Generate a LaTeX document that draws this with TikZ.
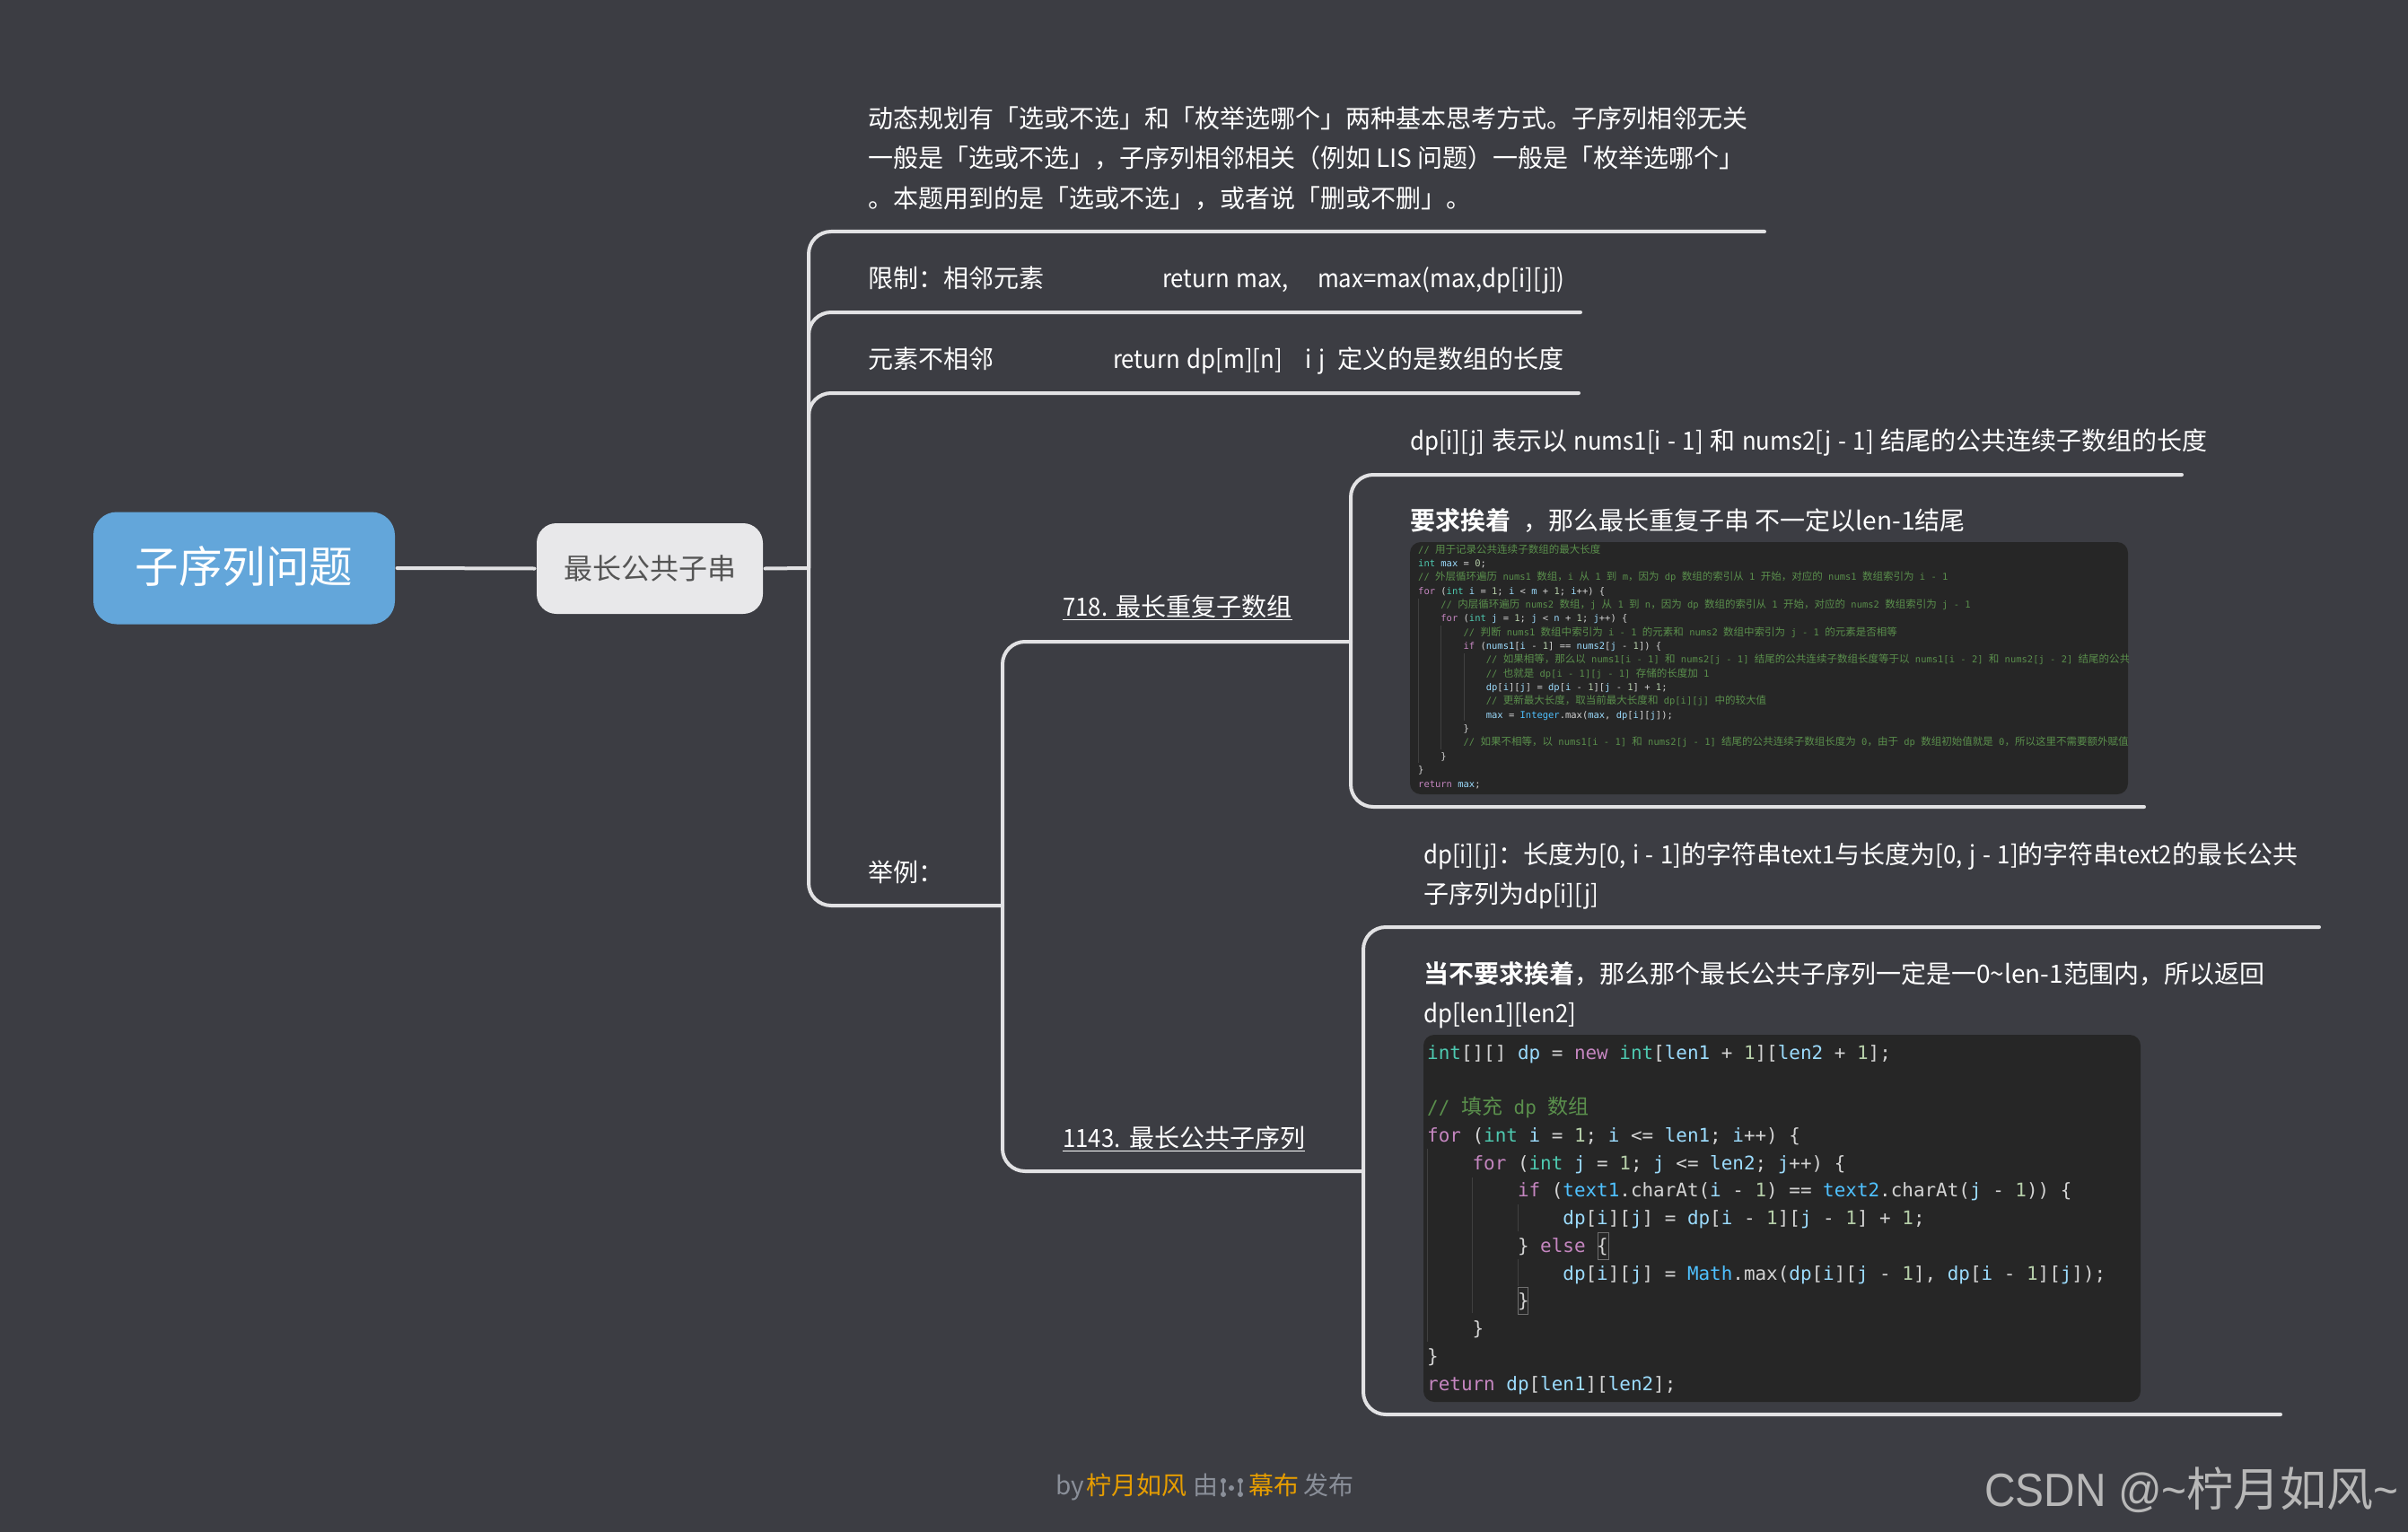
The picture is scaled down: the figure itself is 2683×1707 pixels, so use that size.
\documentclass[tikz,border=0pt]{standalone}
\usepackage{fontspec}
\setmainfont{Noto Sans CJK SC}[BoldFont={Noto Sans CJK SC Bold}]
\newfontfamily\cjcode[Scale=1.1]{Noto Sans CJK SC}
\newfontfamily\latf[FakeStretch=0.92]{Noto Sans CJK SC}
\newfontfamily\monof{DejaVu Sans Mono}
\newfontfamily\wmark[FakeStretch=0.92]{Liberation Sans}
\lineskiplimit=-100pt
\definecolor{bgc}{HTML}{3C3D43}
\definecolor{linec}{HTML}{E2E2E4}
\definecolor{rootc}{HTML}{63A6DA}
\definecolor{subc}{HTML}{E8E8EA}
\definecolor{subt}{HTML}{555555}
\definecolor{codebg}{HTML}{262626}
\definecolor{guide}{HTML}{404040}
\definecolor{hl}{HTML}{707070}
\definecolor{cmc}{HTML}{5A8F4C}
\definecolor{kwc}{HTML}{C586C0}
\definecolor{tyc}{HTML}{4EC9B0}
\definecolor{vac}{HTML}{9CDCFE}
\definecolor{txc}{HTML}{D4D4D4}
\definecolor{nuc}{HTML}{B5CEA8}
\definecolor{clc}{HTML}{4FC1FF}
\definecolor{footg}{HTML}{8A8F99}
\definecolor{footo}{HTML}{E69D00}
\definecolor{wmc}{HTML}{B8B8B8}
\newcommand{\lat}[1]{{\latf\spaceskip=.27em\relax #1}}
\newcommand{\cjk}[1]{{\cjcode #1}}
\newcommand{\ckw}[1]{\textcolor{kwc}{#1}}
\newcommand{\cty}[1]{\textcolor{tyc}{#1}}
\newcommand{\cva}[1]{\textcolor{vac}{#1}}
\newcommand{\cnu}[1]{\textcolor{nuc}{#1}}
\newcommand{\ccl}[1]{\textcolor{clc}{#1}}
\newcommand{\ccm}[1]{\textcolor{cmc}{#1}}
\newcommand{\cind}[1]{\hspace*{#1\dimexpr 0.602em\relax}}
\tikzset{
  x=1pt,y=-1pt,
  conn/.style={draw=linec,line width=4pt,line cap=round,rounded corners=25pt},
  rootbox/.style={fill=rootc,rounded corners=26pt,minimum width=336pt,minimum height=125pt,outer sep=2.5pt,text=white,font=\fontsize{48.5}{58}\selectfont},
  subbox/.style={fill=subc,rounded corners=22pt,minimum width=252pt,minimum height=101pt,outer sep=2.5pt,text=subt,font=\fontsize{32}{38}\selectfont},
  label/.style={anchor=base west,inner sep=0pt,text=white,align=left,font=\fontsize{28}{44.5}\selectfont},
  codebox/.style={fill=codebg,rounded corners=12pt,inner sep=0pt},
  codeA/.style={anchor=base west,inner sep=0pt,text=txc,align=left,font=\monof\fontsize{10.47}{15.35}\selectfont},
  codeB/.style={anchor=base west,inner sep=0pt,text=txc,align=left,font=\monof\fontsize{20.93}{30.75}\selectfont},
  guideline/.style={draw=guide,line width=1pt},
  bracehl/.style={draw=hl,line width=1pt},
  foot/.style={anchor=base west,inner sep=0pt,font=\fontsize{28}{34}\selectfont},
}
\begin{document}
\begin{tikzpicture}
\useasboundingbox (0,0) rectangle (2683,1707);
\fill[bgc] (0,0) rectangle (2683,1707);

% central nodes
\node[rootbox] (root) at (272,633) {\raisebox{7pt}{子序列问题}};
\node[subbox] (sub) at (724,633.5) {\raisebox{2.5pt}{最长公共子串}};

% junctions and free ends
\coordinate (jA) at (901,633);
\coordinate (eIntro) at (1966,258);
\coordinate (eLimit) at (1761,348);
\coordinate (eAdj) at (1759,438);
\coordinate (jB) at (1117,1009);
\coordinate (jC) at (1505,715);
\coordinate (jD) at (1519,1305);
\coordinate (eDefA) at (2431,529);
\coordinate (eCodeA) at (2389,899);
\coordinate (eDefB) at (2584,1033);
\coordinate (eCodeB) at (2541,1576);

\draw[conn] (root.east) -- (sub.west);
\draw[conn] (sub.east) -- (jA);
\draw[conn] (jA) |- (eIntro);
\draw[conn] (jA) |- (eLimit);
\draw[conn] (jA) |- (eAdj);
\draw[conn] (jA) |- (jB);
\draw[conn] (jB) |- (jC);
\draw[conn] (jB) |- (jD);
\draw[conn] (jC) |- (eDefA);
\draw[conn] (jC) |- (eCodeA);
\draw[conn] (jD) |- (eDefB);
\draw[conn] (jD) |- (eCodeB);

% labels
\node[label] (intro) at (967,231.5) {动态规划有「选或不选」和「枚举选哪个」两种基本思考方式。子序列相邻无关\\一般是「选或不选」，子序列相邻相关（例如 LIS 问题）一般是「枚举选哪个」\\。本题用到的是「选或不选」，或者说「删或不删」。};
\node[label] (limit) at (967,320) {限制：相邻元素};
\node[label] (limitr) at (1295,320) {\lat{return max,}\hspace*{32pt}\lat{max=max(max,dp[i][j])}};
\node[label] (adj) at (967,410) {元素不相邻};
\node[label] (adjr) at (1240,410) {\lat{return dp[m][n]}\hspace*{26pt}\lat{i j}\hspace*{14pt}定义的是数组的长度};
\node[label] (eg) at (967,982) {举例：};
\node[label] (pa) at (1184,686) {\underline{\lat{718. }最长重复子数组}};
\node[label] (pb) at (1184,1278) {\underline{\lat{1143. }最长公共子序列}};
\node[label] (defa) at (1571,501) {\lat{dp[i][j] }表示以\lat{ nums1[i - 1] }和\lat{ nums2[j - 1] }结尾的公共连续子数组的长度};
\node[label] (reqa) at (1571,590.5) {\textbf{要求挨着}\hspace*{8pt} ，那么最长重复子串 不一定以len-1结尾};
\node[label] (defb) at (1586,1006.5) {\lat{dp[i][j]}：长度为\lat{[0, i - 1]}的字符串\lat{text1}与长度为\lat{[0, j - 1]}的字符串\lat{text2}的最长公共\\子序列为\lat{dp[i][j]}};
\node[label] (reqb) at (1586,1139.5) {\textbf{当不要求挨着}，那么那个最长公共子序列一定是一0\textasciitilde len-1范围内，所以返回\\\lat{dp[len1][len2]}};

% first code block
\path[codebox] (1571,604) rectangle (2371,885);
\draw[guideline] (1580,667) -- (1580,850);
\draw[guideline] (1605,697) -- (1605,835);
\draw[guideline] (1631,728) -- (1631,803);
\begin{scope}
\clip (1571,604) rectangle (2371,885);
\node[codeA] (codea) at (1580,877) {%
\ccm{// \cjk{用于记录公共连续子数组的最大长度}}\\
\cty{int} \cva{max} = \cnu{0};\\
\ccm{// \cjk{外层循环遍历} nums1 \cjk{数组，}i \cjk{从} 1 \cjk{到} m\cjk{，因为} dp \cjk{数组的索引从} 1 \cjk{开始，对应的} nums1 \cjk{数组索引为} i - 1}\\
\ckw{for} (\cty{int} \cva{i} = \cnu{1}; \cva{i} < \cva{m} + \cnu{1}; \cva{i}++) \{\\
\cind{4}\ccm{// \cjk{内层循环遍历} nums2 \cjk{数组，}j \cjk{从} 1 \cjk{到} n\cjk{，因为} dp \cjk{数组的索引从} 1 \cjk{开始，对应的} nums2 \cjk{数组索引为} j - 1}\\
\cind{4}\ckw{for} (\cty{int} \cva{j} = \cnu{1}; \cva{j} < \cva{n} + \cnu{1}; \cva{j}++) \{\\
\cind{8}\ccm{// \cjk{判断} nums1 \cjk{数组中索引为} i - 1 \cjk{的元素和} nums2 \cjk{数组中索引为} j - 1 \cjk{的元素是否相等}}\\
\cind{8}\ckw{if} (\cva{nums1}[\cva{i} - \cnu{1}] == \cva{nums2}[\cva{j} - \cnu{1}]) \{\\
\cind{12}\ccm{// \cjk{如果相等，那么以} nums1[i - 1] \cjk{和} nums2[j - 1] \cjk{结尾的公共连续子数组长度等于以} nums1[i - 2] \cjk{和} nums2[j - 2] \cjk{结尾的公共}}\\
\cind{12}\ccm{// \cjk{也就是} dp[i - 1][j - 1] \cjk{存储的长度加} 1}\\
\cind{12}\cva{dp}[\cva{i}][\cva{j}] = \cva{dp}[\cva{i} - \cnu{1}][\cva{j} - \cnu{1}] + \cnu{1};\\
\cind{12}\ccm{// \cjk{更新最大长度，取当前最大长度和} dp[i][j] \cjk{中的较大值}}\\
\cind{12}\cva{max} = \ccl{Integer}.max(\cva{max}, \cva{dp}[\cva{i}][\cva{j}]);\\
\cind{8}\}\\
\cind{8}\ccm{// \cjk{如果不相等，以} nums1[i - 1] \cjk{和} nums2[j - 1] \cjk{结尾的公共连续子数组长度为} 0\cjk{，由于} dp \cjk{数组初始值就是} 0\cjk{，所以这里不需要额外赋值}}\\
\cind{4}\}\\
\}\\
\ckw{return} \cva{max};};
\end{scope}

% second code block
\path[codebox] (1586,1153) rectangle (2385,1562);
\draw[guideline] (1590,1280) -- (1590,1495);
\draw[guideline] (1640.5,1312) -- (1640.5,1463);
\draw[guideline] (1691.5,1342) -- (1691.5,1372);
\draw[guideline] (1691.5,1403) -- (1691.5,1433);
\draw[bracehl] (1780,1373) rectangle (1792,1403);
\draw[bracehl] (1691.5,1434) rectangle (1702.5,1464);
\node[codeB] (codeb) at (1590,1549) {%
\cty{int}[][] \cva{dp} = \ckw{new} \cty{int}[\cva{len1} + \cnu{1}][\cva{len2} + \cnu{1}];\\
\mbox{}\\
\ccm{// \cjk{填充} dp \cjk{数组}}\\
\ckw{for} (\cty{int} \cva{i} = \cnu{1}; \cva{i} <= \cva{len1}; \cva{i}++) \{\\
\cind{4}\ckw{for} (\cty{int} \cva{j} = \cnu{1}; \cva{j} <= \cva{len2}; \cva{j}++) \{\\
\cind{8}\ckw{if} (\ccl{text1}.charAt(\cva{i} - \cnu{1}) == \ccl{text2}.charAt(\cva{j} - \cnu{1})) \{\\
\cind{12}\cva{dp}[\cva{i}][\cva{j}] = \cva{dp}[\cva{i} - \cnu{1}][\cva{j} - \cnu{1}] + \cnu{1};\\
\cind{8}\} \ckw{else} \{\\
\cind{12}\cva{dp}[\cva{i}][\cva{j}] = \ccl{Math}.max(\cva{dp}[\cva{i}][\cva{j} - \cnu{1}], \cva{dp}[\cva{i} - \cnu{1}][\cva{j}]);\\
\cind{8}\}\\
\cind{4}\}\\
\}\\
\ckw{return} \cva{dp}[\cva{len1}][\cva{len2}];};

% footer
\node[foot,text=footg] (fby) at (1176,1665) {by};
\node[foot,text=footo] (fname) at (1210,1665) {柠月如风};
\node[foot,text=footg] (fyou) at (1329,1665) {由};
\draw[footg,line width=1.5pt] (1363,1650) -- (1363,1665) (1382,1650) -- (1382,1665);
\fill[footg] (1363,1650) circle (3pt) (1363,1665) circle (3pt) (1372,1658) circle (3pt) (1382,1650) circle (3pt) (1382,1665) circle (3pt);
\node[foot,text=footo] (fmb) at (1391,1665) {幕布};
\node[foot,text=footg] (fpub) at (1452,1665) {发布};
\node[anchor=base west,inner sep=0pt,text=wmc,font=\fontsize{52}{60}\selectfont] (wm) at (2211,1678) {{\wmark CSDN @\textasciitilde}柠月如风{\wmark\textasciitilde}};
\end{tikzpicture}
\end{document}
